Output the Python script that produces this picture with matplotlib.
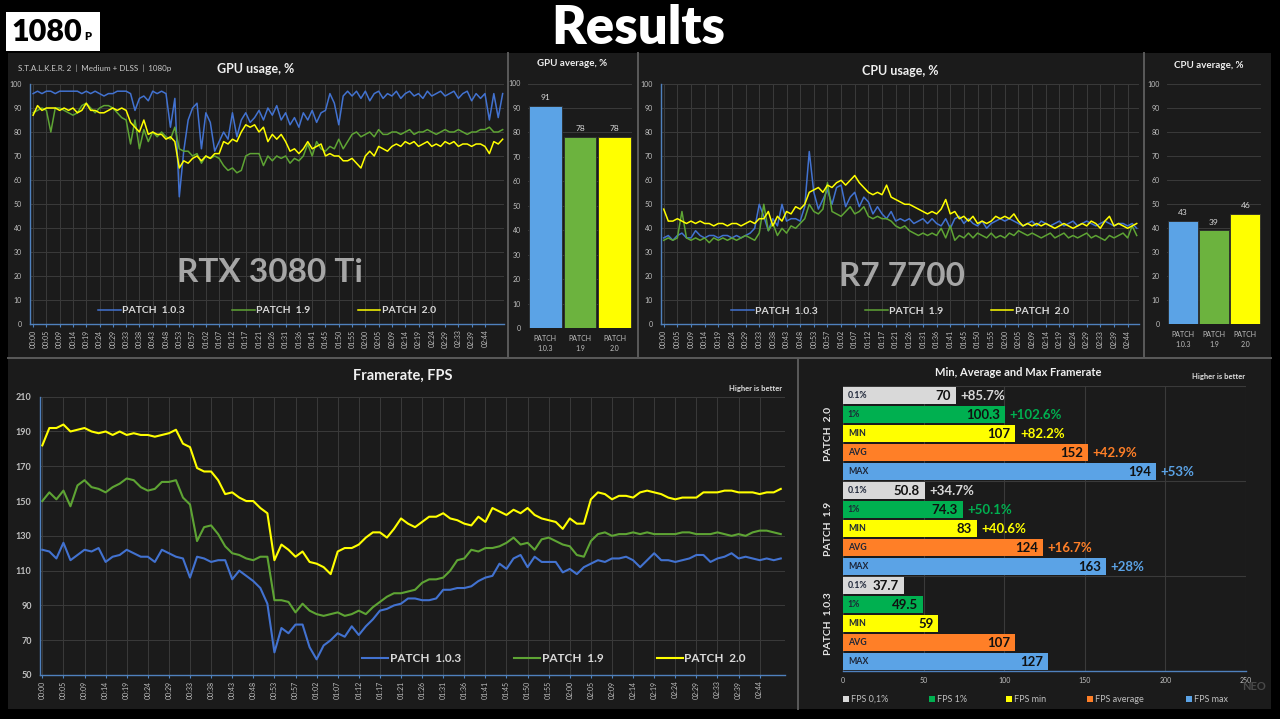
import numpy as np
import matplotlib
matplotlib.use('Agg')
import matplotlib.pyplot as plt
from matplotlib.patches import Rectangle
from matplotlib.lines import Line2D

plt.rcParams['font.family'] = ['Lato', 'DejaVu Sans']

W, H = 1280, 719

# ---------------- data ----------------
time_labels = ['00:00', '00:05', '00:09', '00:14', '00:19', '00:24', '00:29', '00:33',
               '00:38', '00:43', '00:48', '00:53', '00:57', '01:02', '01:07', '01:12',
               '01:17', '01:21', '01:26', '01:31', '01:36', '01:41', '01:45', '01:50',
               '01:55', '02:00', '02:05', '02:09', '02:14', '02:19', '02:24', '02:29',
               '02:33', '02:39', '02:44']
patch_labels = ['PATCH  1.0.3', 'PATCH  1.9', 'PATCH  2.0']
bar_labels = ['PATCH\n1.0.3', 'PATCH\n1.9', 'PATCH\n2.0']

gpu_103 = [96, 97, 96, 97, 97, 96, 97, 97, 97, 97,
           97, 96, 97, 96, 97, 96, 95, 96, 96, 97,
           97, 97, 96, 89, 94, 95, 93, 97, 96, 97,
           96, 82, 94, 53, 72, 85, 90, 92, 73, 88,
           84, 72, 76, 80, 77, 88, 78, 85, 88, 84,
           86, 89, 85, 90, 87, 91, 85, 88, 83, 86,
           82, 88, 85, 89, 84, 88, 89, 96, 92, 83,
           95, 97, 95, 97, 94, 97, 93, 96, 97, 94,
           96, 95, 97, 94, 96, 97, 95, 96, 94, 97,
           95, 96, 97, 95, 96, 97, 94, 96, 97, 93,
           96, 94, 96, 85, 96, 86, 96]
gpu_19 = [88, 89, 90, 89, 80, 90, 90, 89, 88, 87,
          88, 91, 92, 90, 88, 90, 91, 91, 90, 88,
          86, 85, 75, 85, 73, 81, 76, 80, 78, 80,
          78, 77, 82, 73, 72, 72, 70, 71, 67, 70,
          69, 70, 69, 66, 64, 65, 63, 64, 70, 71,
          71, 71, 66, 70, 68, 70, 69, 70, 67, 69,
          68, 70, 75, 70, 76, 73, 72, 74, 73, 77,
          73, 76, 79, 80, 78, 79, 80, 78, 81, 79,
          79, 80, 80, 79, 80, 81, 79, 80, 80, 81,
          80, 79, 80, 81, 80, 80, 81, 80, 79, 80,
          80, 81, 81, 82, 80, 80, 81]
gpu_20 = [87, 91, 89, 90, 90, 90, 89, 90, 89, 90,
          88, 89, 92, 89, 89, 88, 88, 89, 90, 89,
          90, 89, 84, 82, 80, 85, 79, 80, 79, 79,
          77, 78, 76, 65, 68, 67, 69, 70, 68, 70,
          69, 71, 71, 76, 75, 77, 76, 80, 83, 82,
          83, 80, 82, 76, 79, 77, 79, 76, 72, 73,
          71, 73, 76, 73, 74, 75, 70, 71, 70, 70,
          68, 68, 69, 67, 65, 70, 72, 70, 74, 73,
          72, 74, 75, 74, 76, 75, 76, 74, 75, 76,
          74, 75, 74, 76, 75, 76, 74, 75, 75, 74,
          75, 75, 74, 71, 76, 75, 77]

cpu_103 = [36, 37, 35, 37, 38, 36, 36, 39, 37, 36,
           37, 37, 36, 37, 37, 36, 37, 36, 37, 38,
           40, 50, 45, 39, 44, 41, 50, 43, 44, 44,
           43, 49, 72, 55, 48, 52, 56, 50, 57, 58,
           49, 53, 55, 49, 53, 51, 46, 49, 46, 44,
           47, 43, 44, 43, 44, 42, 43, 44, 42, 44,
           42, 41, 44, 40, 44, 45, 42, 44, 42, 41,
           43, 40, 42, 43, 44, 43, 44, 43, 42, 41,
           42, 43, 41, 43, 42, 41, 42, 43, 41, 42,
           43, 41, 42, 43, 42, 41, 42, 43, 42, 41,
           42, 42, 41, 42, 40]
cpu_19 = [35, 36, 35, 36, 47, 36, 35, 36, 35, 36,
          34, 36, 35, 36, 35, 36, 35, 36, 37, 36,
          35, 38, 50, 39, 42, 37, 40, 38, 41, 40,
          42, 44, 50, 47, 46, 48, 59, 47, 46, 45,
          47, 49, 46, 47, 49, 45, 44, 45, 44, 44,
          43, 41, 40, 41, 39, 38, 37, 38, 37, 38,
          37, 40, 36, 41, 35, 37, 36, 38, 36, 38,
          37, 36, 38, 36, 37, 36, 38, 37, 39, 38,
          37, 38, 37, 36, 37, 38, 36, 37, 38, 36,
          37, 36, 37, 38, 36, 37, 36, 35, 37, 36,
          37, 38, 36, 41, 37]
cpu_20 = [48, 43, 43, 44, 43, 42, 43, 42, 43, 42,
          42, 41, 42, 42, 41, 42, 42, 41, 42, 43,
          42, 44, 44, 47, 41, 45, 43, 47, 46, 49,
          48, 50, 55, 56, 57, 55, 58, 57, 59, 60,
          58, 60, 62, 59, 57, 55, 54, 55, 54, 58,
          53, 52, 51, 50, 50, 49, 48, 47, 46, 47,
          46, 48, 52, 46, 47, 44, 45, 43, 45, 42,
          43, 42, 43, 45, 44, 45, 44, 46, 43, 41,
          42, 41, 42, 41, 42, 41, 40, 41, 42, 41,
          40, 41, 42, 41, 43, 42, 40, 43, 45, 41,
          42, 41, 40, 41, 42]

fps_103 = [122, 121, 117, 126, 116, 119, 122, 121, 123, 115,
           118, 119, 122, 120, 118, 118, 115, 122, 120, 118,
           117, 106, 118, 117, 115, 116, 116, 105, 110, 107,
           104, 100, 91, 63, 77, 74, 79, 79, 66, 59,
           67, 70, 74, 72, 78, 73, 78, 82, 87, 88,
           90, 91, 94, 94, 93, 93, 94, 99, 99, 100,
           100, 101, 104, 106, 107, 114, 111, 117, 119, 112,
           118, 115, 115, 115, 109, 111, 108, 112, 114, 116,
           115, 117, 117, 118, 116, 112, 116, 120, 116, 116,
           115, 116, 117, 119, 119, 115, 117, 118, 120, 117,
           118, 117, 116, 117, 116, 117]
fps_19 = [150, 155, 151, 156, 147, 159, 162, 158, 157, 155,
          158, 160, 163, 162, 158, 156, 157, 161, 161, 162,
          152, 148, 127, 135, 136, 131, 124, 120, 119, 117,
          116, 118, 118, 93, 93, 92, 86, 91, 87, 85,
          84, 85, 86, 84, 85, 87, 85, 89, 92, 95,
          97, 97, 98, 99, 103, 105, 105, 106, 110, 116,
          117, 122, 121, 123, 123, 124, 126, 129, 125, 126,
          122, 128, 129, 127, 125, 124, 119, 118, 127, 131,
          132, 130, 131, 131, 132, 131, 132, 131, 131, 131,
          131, 132, 132, 131, 131, 131, 132, 131, 130, 131,
          130, 132, 133, 133, 132, 131]
fps_20 = [182, 192, 192, 194, 190, 191, 192, 190, 189, 190,
          188, 190, 188, 189, 188, 188, 187, 188, 189, 191,
          183, 181, 169, 167, 167, 162, 154, 155, 152, 150,
          150, 146, 143, 116, 125, 122, 118, 121, 115, 114,
          112, 108, 121, 123, 123, 125, 129, 132, 132, 129,
          134, 140, 137, 135, 138, 141, 141, 143, 140, 139,
          137, 136, 141, 138, 146, 144, 142, 145, 143, 146,
          142, 140, 139, 138, 134, 140, 137, 137, 151, 155,
          154, 151, 153, 153, 152, 155, 156, 155, 154, 152,
          151, 152, 152, 152, 155, 155, 155, 156, 156, 155,
          155, 155, 154, 155, 155, 157]

gpu_avg = [91, 78, 78]
cpu_avg = [43, 39, 46]

group_names = ['PATCH  2.0', 'PATCH  1.9', 'PATCH  1.0.3']
metric_names = ['0.1%', '1%', 'MIN', 'AVG', 'MAX']
fps_patch20 = [70, 100.3, 107, 152, 194]
fps_patch19 = [50.8, 74.3, 83, 124, 163]
fps_patch103 = [37.7, 49.5, 59, 107, 127]
gain_patch20 = ['+85.7%', '+102.6%', '+82.2%', '+42.9%', '+53%']
gain_patch19 = ['+34.7%', '+50.1%', '+40.6%', '+16.7%', '+28%']
gain_patch103 = ['', '', '', '', '']
legend_names = ['FPS 0,1%', 'FPS 1%', 'FPS min', 'FPS average', 'FPS max']

# ---------------- style ----------------
BLUE_LINE = '#4272d0'
GREEN_LINE = '#5ea434'
YELLOW = '#ffff00'
BLUE_BAR = '#5ba3e6'
GREEN_BAR = '#6cb33e'
GREEN_1 = '#00b050'
ORANGE = '#ff7f27'
LGRAY = '#d9d9d9'
GRID = '#3a3a3a'
AXIS = '#4f81bd'
TXT = '#bfbfbf'
PANEL = '#1b1b1b'

fig = plt.figure(figsize=(W / 100, H / 100), dpi=100, facecolor='black')


def fx(px):
    return px / W


def fy(py):
    return 1 - py / H


def px_axes(x0, y0, x1, y1):
    ax = fig.add_axes([x0 / W, 1 - y1 / H, (x1 - x0) / W, (y1 - y0) / H])
    ax.set_facecolor('none')
    return ax


# panels and separators
fig.add_artist(Rectangle((fx(8), fy(709)), (1271 - 8) / W, (709 - 53) / H,
                         transform=fig.transFigure, facecolor=PANEL,
                         edgecolor='none', zorder=-5))
for x0, y0, x1, y1 in [(508, 53, 508, 357), (638, 53, 638, 358), (1144, 53, 1144, 357),
                       (8, 358, 1271, 358), (798, 358, 798, 709)]:
    fig.add_artist(Line2D([fx(x0), fx(x1)], [fy(y0), fy(y1)], transform=fig.transFigure,
                          color='#5a5a5a', lw=1.4))

# header
fig.add_artist(Rectangle((fx(6), fy(51)), 94 / W, 39 / H, transform=fig.transFigure,
                         facecolor='white', edgecolor='none'))
fig.text(fx(11), fy(32), '1080', fontsize=22, fontweight='heavy', color='black',
         ha='left', va='center')
fig.text(fx(84), fy(37), 'P', fontsize=8, fontweight='heavy', color='black',
         ha='left', va='center')
fig.text(fx(638), fy(28), 'Results', fontsize=38, fontweight='heavy', color='white',
         ha='center', va='center')

series_colors = [BLUE_LINE, GREEN_LINE, YELLOW]


def line_chart(rect, series, xlim, ylim, ystep, lw, leg_anchor, leg_size, ysize, ybold):
    ax = px_axes(*rect)
    for s, c, lab in zip(series, series_colors, patch_labels):
        ax.plot(np.arange(len(s)), s, color=c, lw=lw, label=lab, zorder=3)
    ax.set_xlim(*xlim)
    ax.set_ylim(*ylim)
    ax.set_yticks(np.arange(ylim[0], ylim[1] + 1, ystep))
    ax.set_xticks(np.arange(0, 3 * len(time_labels), 3))
    ax.set_xticklabels(time_labels, rotation=90)
    ax.tick_params(axis='x', colors=AXIS, labelcolor=TXT, labelsize=5, length=2,
                   width=0.8, pad=2)
    ax.tick_params(axis='y', length=0, labelcolor=TXT, labelsize=ysize, pad=6)
    if ybold:
        for t in ax.get_yticklabels():
            t.set_fontweight('bold')
    ax.grid(True, color=GRID, lw=0.7)
    ax.set_axisbelow(True)
    for sp in ['top', 'right']:
        ax.spines[sp].set_visible(False)
    for sp in ['left', 'bottom']:
        ax.spines[sp].set_color(AXIS)
        ax.spines[sp].set_linewidth(1)
    ax.legend(loc='center', bbox_to_anchor=leg_anchor, ncol=3, frameon=False,
              labelcolor='#d9d9d9', prop={'weight': 'bold', 'size': leg_size},
              handlelength=2.2, handletextpad=0.15, columnspacing=4.5)
    return ax


def avg_chart(rect, vals):
    ax = px_axes(*rect)
    xs = np.arange(len(vals))
    ax.bar(xs, vals, width=0.95, color=[BLUE_BAR, GREEN_BAR, YELLOW],
           edgecolor='#2b2b2b', lw=0.6, zorder=3)
    for x, v in zip(xs, vals):
        ax.text(x, v + 2, f'{v}', ha='center', va='bottom', fontsize=6, color=LGRAY)
    ax.set_xlim(-0.5, 2.5)
    ax.set_ylim(0, 100)
    ax.set_yticks(range(0, 101, 10))
    ax.yaxis.grid(True, color=GRID, lw=0.7)
    ax.set_axisbelow(True)
    ax.set_xticks(xs)
    ax.set_xticklabels(bar_labels, linespacing=1.5)
    ax.tick_params(length=0, labelsize=5, labelcolor=TXT)
    ax.tick_params(axis='x', pad=5)
    ax.tick_params(axis='y', pad=5)
    for sp in ax.spines.values():
        sp.set_visible(False)
    return ax


# ---- GPU ----
line_chart((30, 84, 504, 324), [gpu_103, gpu_19, gpu_20], (-0.7, 106.3), (0, 100), 10,
           1.1, (0.5, 0.055), 7.5, 5, False)
fig.text(fx(18), fy(68), 'S.T.A.L.K.E.R. 2  |  Medium + DLSS  |  1080p', fontsize=5.8,
         color='#c8c8c8', ha='left', va='center')
fig.text(fx(256), fy(69), 'GPU usage, %', fontsize=9, fontweight='bold', color='#f0f0f0',
         ha='center', va='center')
fig.text(fx(270), fy(272), 'RTX 3080 Ti', fontsize=24, fontweight='bold', color='#a6a6a6',
         ha='center', va='center')

avg_chart((528, 83.5, 632, 328), gpu_avg)
fig.text(fx(572), fy(64), 'GPU average, %', fontsize=7, fontweight='bold', color='#f0f0f0',
         ha='center', va='center')

# ---- CPU ----
line_chart((661, 84.3, 1139, 324.3), [cpu_103, cpu_19, cpu_20], (-0.6, 104.5), (0, 100), 10,
           1.1, (0.5, 0.055), 7.5, 5, False)
fig.text(fx(900), fy(71), 'CPU usage, %', fontsize=9, fontweight='bold', color='#f0f0f0',
         ha='center', va='center')
fig.text(fx(902), fy(277), 'R7 7700', fontsize=24, fontweight='bold', color='#a6a6a6',
         ha='center', va='center')

avg_chart((1167, 83.7, 1261, 324.3), cpu_avg)
fig.text(fx(1209), fy(66), 'CPU average, %', fontsize=7, fontweight='bold', color='#f0f0f0',
         ha='center', va='center')

# ---- Framerate ----
axf = line_chart((40, 396.7, 785, 675), [fps_103, fps_19, fps_20], (-0.33, 105.6), (50, 210),
                 20, 1.5, (0.69, 0.058), 8.5, 6.5, True)
fig.text(fx(403), fy(376), 'Framerate, FPS', fontsize=10.5, fontweight='bold',
         color='#f0f0f0', ha='center', va='center')
fig.text(fx(782), fy(388), 'Higher is better', fontsize=5.5, fontweight='bold',
         color='#e0e0e0', ha='right', va='center')

# ---- Min / Avg / Max ----
axb = px_axes(843, 386, 1246, 671)
bar_colors = [LGRAY, GREEN_1, YELLOW, ORANGE, BLUE_BAR]
gain_colors = [LGRAY, GREEN_1, YELLOW, ORANGE, BLUE_BAR]
groups = [(fps_patch20, gain_patch20), (fps_patch19, gain_patch19), (fps_patch103, gain_patch103)]
for g, (vals, gains) in enumerate(groups):
    pos = np.arange(5) + g * 5
    axb.barh(pos, vals, height=0.93, color=bar_colors, zorder=3)
    for p, v, m, gtxt, gc in zip(pos, vals, metric_names, gains, gain_colors):
        axb.text(3, p, m, ha='left', va='center', fontsize=6.3, fontweight='bold',
                 color='#1e2638', zorder=4)
        axb.text(v - 3, p + 0.05, f'{v:g}', ha='right', va='center', fontsize=9.5,
                 fontweight='bold', color='#111111', zorder=4)
        if gtxt:
            axb.text(v + 3, p + 0.05, gtxt, ha='left', va='center', fontsize=9.5,
                     fontweight='bold', color=gc, zorder=4)
    axb.text(-9, g * 5 + 2, group_names[g], rotation=90, ha='center', va='center',
             fontsize=7.5, fontweight='bold', color='#e6e6e6', clip_on=False)
axb.set_xlim(0, 250)
axb.set_ylim(14.5, -0.5)
axb.set_xticks(range(0, 251, 50))
axb.set_yticks([])
axb.xaxis.grid(True, color=GRID, lw=0.8)
axb.set_axisbelow(True)
for yy in [-0.5, 4.5, 9.5]:
    axb.axhline(yy, color=GRID, lw=0.8, zorder=1)
axb.tick_params(axis='x', length=0, labelsize=5, labelcolor=TXT, pad=4)
for sp in ['top', 'right', 'left']:
    axb.spines[sp].set_visible(False)
axb.spines['bottom'].set_color(AXIS)
axb.spines['bottom'].set_linewidth(1)

fig.text(fx(1018), fy(372), 'Min, Average and Max Framerate', fontsize=8, fontweight='bold',
         color='#f0f0f0', ha='center', va='center')
fig.text(fx(1245), fy(377), 'Higher is better', fontsize=5.5, fontweight='bold',
         color='#e0e0e0', ha='right', va='center')

for lx, name, c in zip([843, 929, 1006, 1087, 1186], legend_names, bar_colors):
    fig.add_artist(Rectangle((fx(lx), fy(702)), 6 / W, 6 / H, transform=fig.transFigure,
                             facecolor=c, edgecolor='none'))
    fig.text(fx(lx + 8), fy(699), name, fontsize=6.5, color=TXT, ha='left', va='center')

fig.text(fx(1254), fy(687), 'NEO', fontsize=8, fontweight='bold', color='#4a4a4a',
         ha='center', va='center')

fig.savefig('out.png', dpi=100, facecolor='black')
